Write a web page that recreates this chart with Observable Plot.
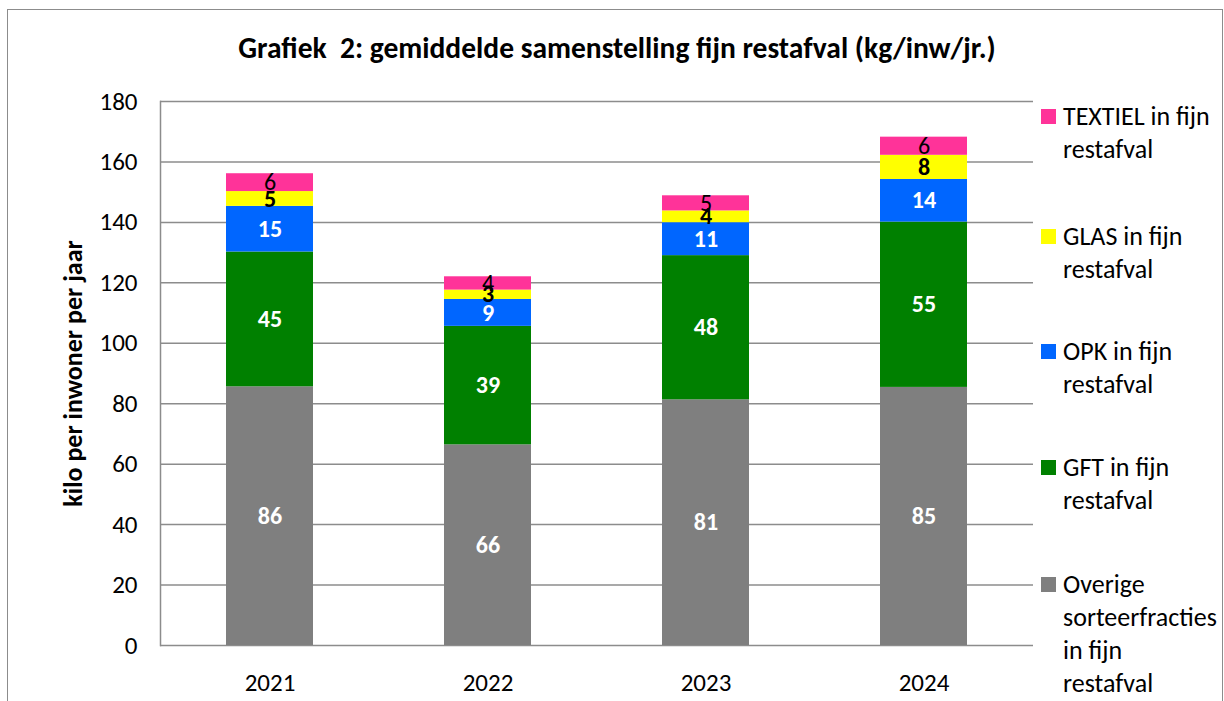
<!DOCTYPE html>
<html><head><meta charset="utf-8">
<script src="https://cdn.jsdelivr.net/npm/d3@7"></script>
<script src="https://cdn.jsdelivr.net/npm/@observablehq/plot@0.6"></script>
<style>
body{margin:0;background:#fff;font-family:Carlito, Lato, sans-serif;color:#000;}
#wrap{position:relative;width:1224px;height:701px;overflow:hidden;}
#frame{position:absolute;left:7px;top:9px;width:1216px;height:760px;border:1.5px solid #8c8c8c;box-sizing:border-box;}
#title{position:absolute;left:0;width:1234px;top:30px;text-align:center;font-weight:bold;font-size:29.5px;line-height:36px;}
#chart{position:absolute;left:0;top:80px;}
#legend{position:absolute;left:1041px;top:0;}
.item{position:absolute;left:0;white-space:pre;font-size:26px;line-height:33px;}
.sw{position:absolute;left:0;top:9px;width:15px;height:15px;}
.lab{position:absolute;left:22px;top:0;}
</style></head>
<body>
<div id="wrap">
  <div id="frame"></div>
  <div id="title">Grafiek&nbsp; 2: gemiddelde samenstelling fijn restafval (kg/inw/jr.)</div>
  <div id="chart"></div>
  <div id="legend"></div>
</div>
<script>
const years = ["2021", "2022", "2023", "2024"];
const categories = ["Overige sorteerfracties in fijn restafval", "GFT in fijn restafval", "OPK in fijn restafval", "GLAS in fijn restafval", "TEXTIEL in fijn restafval"];
const legendLines = ["Overige\nsorteerfracties\nin fijn\nrestafval", "GFT in fijn\nrestafval", "OPK in fijn\nrestafval", "GLAS in fijn\nrestafval", "TEXTIEL in fijn\nrestafval"];
const colors = ["#7f7f7f", "#008000", "#0066ff", "#ffff00", "#ff3399"];
const overige = [85.6, 66.4, 81.3, 85.4];
const gft = [44.6, 39.2, 47.7, 54.7];
const opk = [15.1, 8.9, 10.9, 14.1];
const glas = [4.9, 3.1, 3.9, 8.0];
const textiel = [5.9, 4.4, 5.0, 6.0];
const yTicks = [0, 20, 40, 60, 80, 100, 120, 140, 160, 180];
const yLabel = "kilo per inwoner per jaar";

const series = [overige, gft, opk, glas, textiel];
const rows = [];
years.forEach((yr, i) => series.forEach((s, k) => rows.push({year: yr, cat: categories[k], value: s[i]})));

const stackOpts = {x: "year", y: "value", z: "cat", order: categories, text: d => String(Math.round(d.value))};
const light = new Set([categories[3], categories[4]]);

const chart = Plot.plot({
  width: 1224,
  height: 621,
  marginTop: 21,
  marginBottom: 56,
  marginLeft: 160,
  marginRight: 191,
  style: {fontFamily: "Carlito, Lato, sans-serif", fontSize: "25px", color: "#000", background: "transparent"},
  x: {type: "band", domain: years, paddingInner: 0.6, paddingOuter: 0.3, label: null},
  y: {domain: [0, 180], label: null},
  color: {domain: categories, range: colors},
  marks: [
    Plot.ruleY(yTicks, {stroke: "#8c8c8c", strokeWidth: 1.5}),
    Plot.frame({anchor: "left", stroke: "#8c8c8c", strokeWidth: 1.5}),
    Plot.barY(rows, {x: "year", y: "value", fill: "cat", z: "cat", order: categories}),
    Plot.text(rows, Plot.filter(d => !light.has(d.cat), Plot.stackY({...stackOpts, fill: "white", fontWeight: "bold", fontSize: 24}))),
    Plot.text(rows, Plot.filter(d => d.cat === categories[3], Plot.stackY({...stackOpts, fill: "black", fontWeight: "bold", fontSize: 24}))),
    Plot.text(rows, Plot.filter(d => d.cat === categories[4], Plot.stackY({...stackOpts, fill: "black", fontSize: 24}))),
    Plot.axisY({ticks: yTicks, tickSize: 0, tickPadding: 23, label: null, fontSize: 25}),
    Plot.axisX({tickSize: 0, tickPadding: 28, label: null, fontSize: 25}),
    Plot.text([yLabel], {frameAnchor: "left", dx: -87, rotate: -90, textAnchor: "middle", fontWeight: "bold", fontSize: 26})
  ]
});
document.getElementById("chart").appendChild(chart);

const legendTops = [568, 451, 335, 220, 100];
const legend = document.getElementById("legend");
categories.slice().reverse().forEach((c, j) => {
  const k = categories.length - 1 - j;
  const item = document.createElement("div");
  item.className = "item";
  item.style.top = legendTops[k] + "px";
  item.innerHTML = `<div class="sw" style="background:${colors[k]}"></div><div class="lab"></div>`;
  item.querySelector(".lab").textContent = legendLines[k];
  legend.appendChild(item);
});
</script>
</body></html>
